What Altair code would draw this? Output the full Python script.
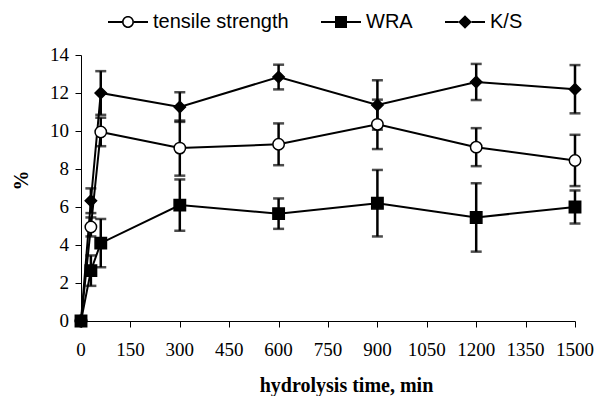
import altair as alt
import pandas as pd

time_min = [0, 30, 60, 300, 600, 900, 1200, 1500]
series_names = ["tensile strength", "WRA", "K/S"]
tensile = [0, 4.95, 9.95, 9.1, 9.3, 10.35, 9.15, 8.45]
tensile_err = [0, 0.5, 0.75, 1.45, 1.1, 1.3, 1.0, 1.35]
wra = [0, 2.65, 4.1, 6.1, 5.65, 6.2, 5.45, 6.0]
wra_err = [0, 0.8, 1.27, 1.35, 0.8, 1.75, 1.8, 0.87]
ks = [0, 6.33, 12.0, 11.26, 12.84, 11.37, 12.58, 12.2]
ks_err = [0, 0.65, 1.15, 0.78, 0.65, 1.3, 0.95, 1.27]
x_ticks = list(range(0, 1501, 150))
y_ticks = list(range(0, 15, 2))

rows = []
for name, vals, errs in zip(series_names, [tensile, wra, ks], [tensile_err, wra_err, ks_err]):
    for t, v, e in zip(time_min, vals, errs):
        rows.append({"time": t, "series": name, "value": v, "lo": v - e, "hi": v + e})
df = pd.DataFrame(rows)

serif = "Liberation Serif"
x_axis = alt.Axis(values=x_ticks, labels=False, title="hydrolysis time, min",
                  titleFont=serif, titleFontSize=20, titleFontWeight="bold", titleColor="black",
                  titleX=265, titleY=64, titleBaseline="middle", titleAlign="center",
                  grid=False, domainColor="black", tickColor="black", tickSize=6)
y_axis = alt.Axis(values=y_ticks, labels=False, title="%",
                  titleFont=serif, titleFontSize=20, titleFontWeight="bold", titleColor="black",
                  titleX=-60, titleY=125, titleBaseline="middle", titleAlign="center", titleAngle=-90,
                  grid=False, domainColor="black", tickColor="black", tickSize=6)
x_scale = alt.Scale(domain=[0, 1500], nice=False)
y_scale = alt.Scale(domain=[0, 14], nice=False)

X = alt.X("time:Q", scale=x_scale, axis=x_axis)
Y = alt.Y("value:Q", scale=y_scale, axis=y_axis)

base = alt.Chart(df)

lines = base.mark_line(color="black", strokeWidth=2).encode(
    x=X, y=Y, detail="series:N", order="time:Q")

bars = base.mark_rule(color="black", strokeWidth=2.5).encode(
    x=X, y=alt.Y("lo:Q", scale=y_scale, axis=y_axis), y2="hi:Q")
caps_lo = base.mark_tick(color="black", orient="horizontal", size=11, thickness=2.5).encode(
    x=X, y=alt.Y("lo:Q", scale=y_scale, axis=y_axis))
caps_hi = base.mark_tick(color="black", orient="horizontal", size=11, thickness=2.5).encode(
    x=X, y=alt.Y("hi:Q", scale=y_scale, axis=y_axis))

points = base.mark_point(filled=True, stroke="black", strokeWidth=1.5, opacity=1, size=130).encode(
    x=X, y=Y,
    shape=alt.Shape("series:N", scale=alt.Scale(domain=series_names, range=["circle", "square", "diamond"]), legend=None),
    fill=alt.Fill("series:N", scale=alt.Scale(domain=series_names, range=["white", "black", "black"]), legend=None),
)

# tick labels as text marks placed through the axis scales
x_labels = alt.Chart(pd.DataFrame({"t": x_ticks})).mark_text(
    font=serif, fontSize=19, color="black", baseline="top", align="center"
).encode(x=alt.X("t:Q", scale=x_scale, axis=x_axis), y=alt.value(286),
         text=alt.Text("t:Q", format="d"))
y_labels = alt.Chart(pd.DataFrame({"v": y_ticks})).mark_text(
    font=serif, fontSize=19, color="black", baseline="middle", align="right"
).encode(y=alt.Y("v:Q", scale=y_scale, axis=y_axis), x=alt.value(-12),
         text=alt.Text("v:Q", format="d"))

# legend glyphs as filled paths (line pieces + marker), unit box scaled to 40px
bar_l = "M-1,-0.05H-0.3V0.05H-1Z"
bar_r = "M0.3,-0.05H1V0.05H0.3Z"
legend_paths = [
    bar_l + bar_r + "M-0.3,0A0.3,0.3 0 1,0 0.3,0A0.3,0.3 0 1,0 -0.3,0Z"
    + "M-0.22,0A0.22,0.22 0 1,1 0.22,0A0.22,0.22 0 1,1 -0.22,0Z",
    bar_l + bar_r + "M-0.3,-0.3H0.3V0.3H-0.3Z",
    "M-1,-0.05H-0.33V0.05H-1Z" + "M0.33,-0.05H1V0.05H0.33Z" + "M0,-0.34L0.34,0L0,0.34L-0.34,0Z",
]
leg = alt.Legend(title=None, orient="none", legendX=27, legendY=-53, direction="horizontal",
                 symbolSize=1600, symbolStrokeWidth=0, symbolFillColor="black",
                 labelFont="Liberation Sans", labelFontSize=20, labelColor="black",
                 labelOffset=5, columnPadding=32, padding=0)
legend_layer = base.transform_filter("false").mark_point(filled=True, color="black", strokeWidth=0, opacity=1).encode(
    x=X, y=Y,
    shape=alt.Shape("series:N", scale=alt.Scale(domain=series_names, range=legend_paths), legend=leg),
)

chart = alt.layer(lines, bars, caps_lo, caps_hi, points, x_labels, y_labels, legend_layer).resolve_scale(
    shape="independent"
).properties(
    width=494, height=266, autosize=alt.AutoSizeParams(type="none"),
    padding={"left": 73, "top": 47, "right": 20, "bottom": 75},
).configure_view(stroke=None)

chart.save("out.html", embed_options={"renderer": "svg", "actions": False})
